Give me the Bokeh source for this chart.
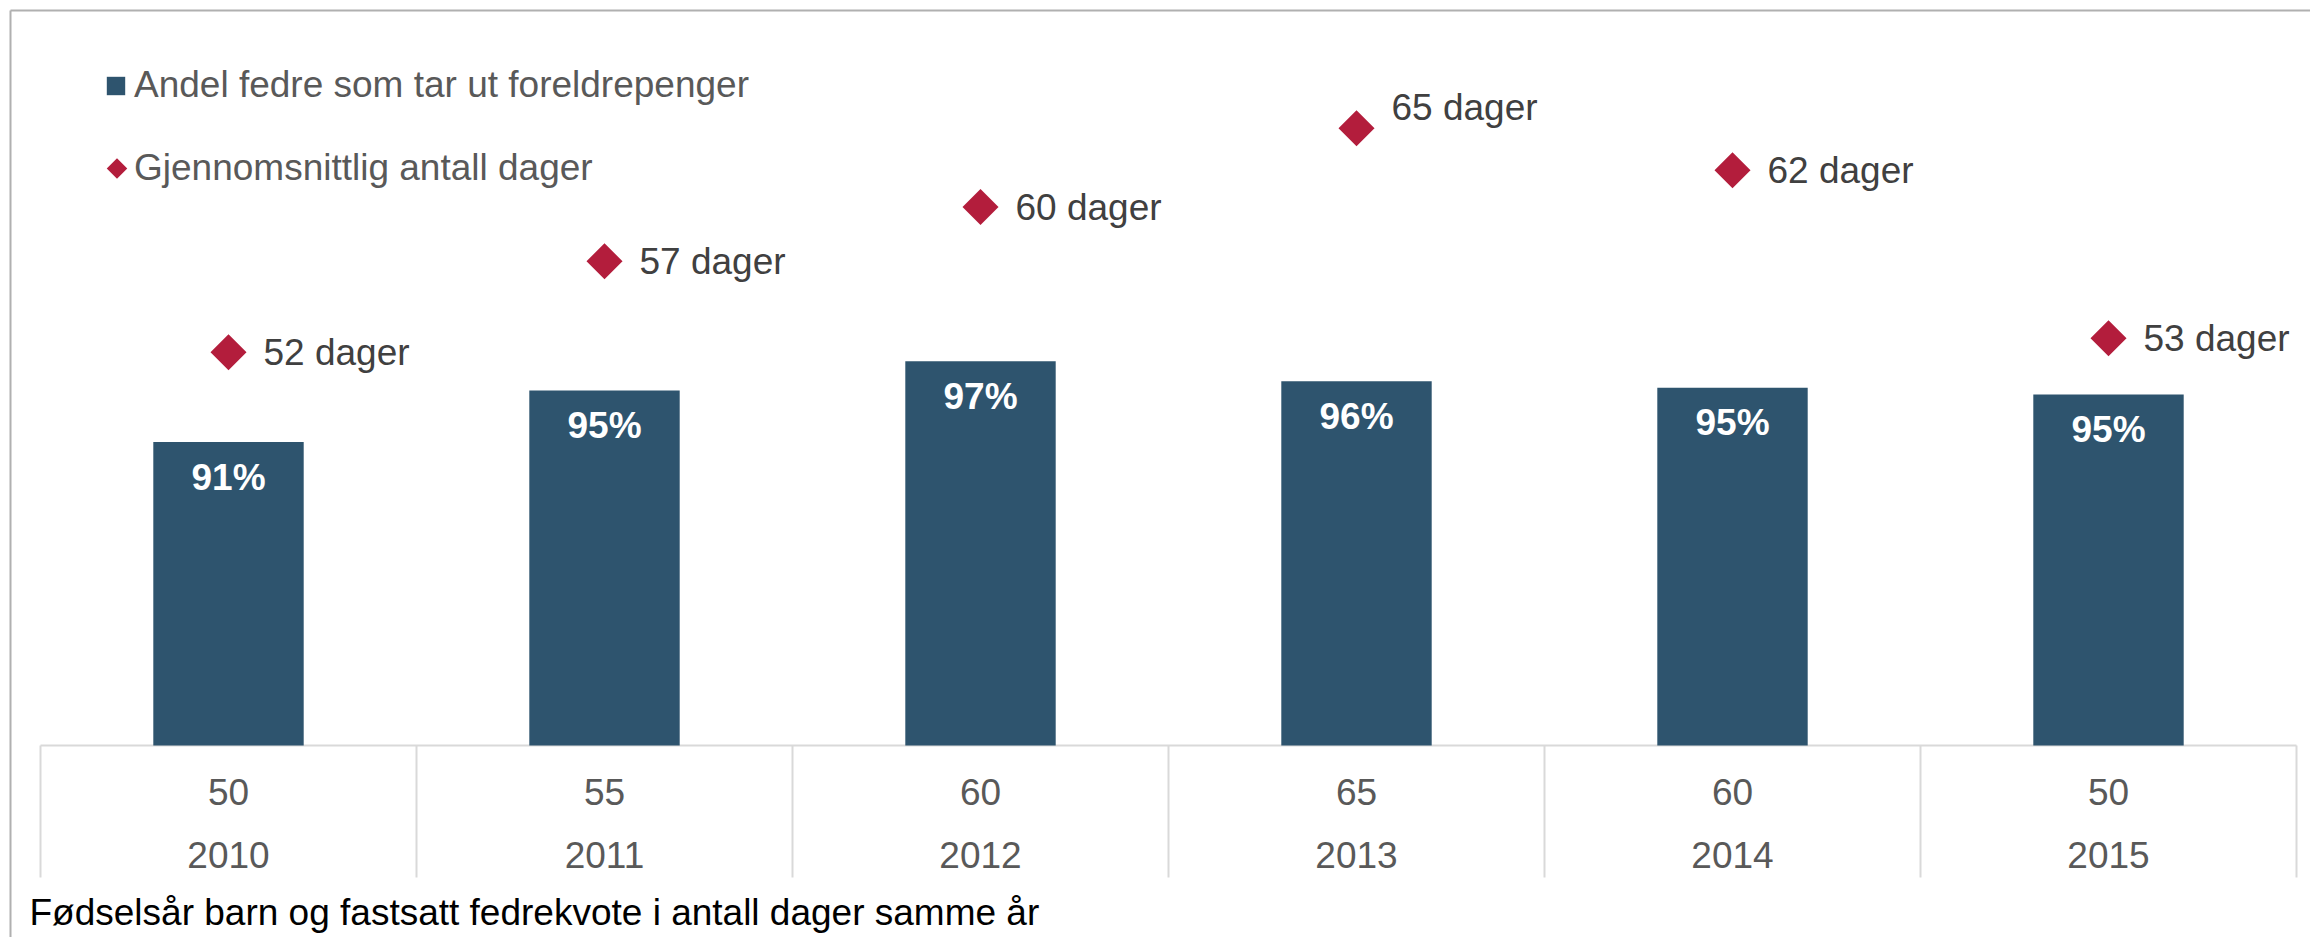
import math
from bokeh.plotting import figure
from bokeh.models import Range1d, ColumnDataSource, Legend, LegendItem
from bokeh.core.properties import value
from bokeh.embed import file_html
from bokeh.resources import INLINE

# ---- data ----
years = ["2010", "2011", "2012", "2013", "2014", "2015"]
quota_days = [50, 55, 60, 65, 60, 50]
share_pct = [90.9, 94.8, 97.0, 95.5, 95.0, 94.5]
avg_days = [51.9, 57.1, 60.2, 64.7, 62.3, 52.7]
series_names = ["Andel fedre som tar ut foreldrepenger", "Gjennomsnittlig antall dager"]
caption = "Fødselsår barn og fastsatt fedrekvote i antall dager samme år"

# ---- layout / style constants (pixels) ----
W, H = 2310, 937
CAT_LEFT = 40
CAT_W = 376
BASE_Y = 745
PCT_MIN = 68.0
PX_PER_PCT = 13.25
DAYS_ZERO_Y = 1260
PX_PER_DAY = 17.5
TABLE_DEPTH = 132
FONT = "Liberation Sans"
FS = "37px"
BAR = "#2e546e"
RED = "#b31d3c"
GRID = "#d9d9d9"
FRAME = "#b0b0b0"


def pct_at(cy):
    return PCT_MIN + (BASE_Y - cy) / PX_PER_PCT


def x_at(cx):
    return (cx - CAT_LEFT) / CAT_W


def rnd(v):
    return int(math.floor(v + 0.5))


n = len(years)
src = ColumnDataSource(dict(
    x=[i + 0.5 for i in range(n)],
    pct=share_pct,
    plabel=[f"{rnd(v)}%" for v in share_pct],
    days=avg_days,
    dlabel=[f"{rnd(d)} dager" for d in avg_days],
    dy=[-21 if d == max(avg_days) else 0 for d in avg_days],
    quota=[str(q) for q in quota_days],
    year=years,
))

p = figure(width=W, height=H, title=None,
           x_range=Range1d(x_at(0), x_at(W)),
           y_range=Range1d(pct_at(H), pct_at(0)),
           x_axis_type=None, y_axis_type=None,
           output_backend="svg", toolbar_location=None,
           min_border=0, outline_line_color=None,
           background_fill_color="white", border_fill_color="white")
p.extra_y_ranges = {"days": Range1d((DAYS_ZERO_Y - H) / PX_PER_DAY, DAYS_ZERO_Y / PX_PER_DAY)}
p.grid.visible = False

# outer chart-area frame (top and left edges)
p.segment(x0=[x_at(10), x_at(10)], y0=[pct_at(10), pct_at(10)],
          x1=[x_at(W), x_at(10)], y1=[pct_at(10), pct_at(H)],
          line_color=FRAME, line_width=2)

# category table lines
p.segment(x0=0, y0=PCT_MIN, x1=n, y1=PCT_MIN, line_color=GRID, line_width=2)
p.segment(x0=list(range(n + 1)), y0=PCT_MIN, x1=list(range(n + 1)),
          y1=pct_at(BASE_Y + TABLE_DEPTH), line_color=GRID, line_width=2)

# bars
bars = p.vbar(x="x", top="pct", bottom=PCT_MIN, width=0.4, source=src,
              fill_color=BAR, line_color=None)
p.text(x="x", y="pct", text="plabel", source=src, y_offset=35,
       text_align="center", text_baseline="middle", text_color="white",
       text_font=value(FONT), text_font_style="bold", text_font_size=FS)

# diamonds
dia = p.scatter(x="x", y="days", y_range_name="days", source=src, marker="square",
                angle=math.pi / 4, size=25.5, fill_color=RED, line_color=None)
p.text(x="x", y="days", y_range_name="days", text="dlabel", source=src,
       x_offset=35, y_offset="dy", text_align="left", text_baseline="middle",
       text_color="#404040", text_font=value(FONT), text_font_size=FS)

# category labels (quota + year)
p.text(x="x", y=pct_at(791), text="quota", source=src, text_align="center",
       text_baseline="middle", text_color="#595959", text_font=value(FONT), text_font_size=FS)
p.text(x="x", y=pct_at(854), text="year", source=src, text_align="center",
       text_baseline="middle", text_color="#595959", text_font=value(FONT), text_font_size=FS)

# caption (axis description)
p.text(x=[x_at(29)], y=[pct_at(912)], text=[caption], text_align="left",
       text_baseline="middle", text_color="black",
       text_font=value(FONT), text_font_size=FS)

# legends
common = dict(label_text_font=FONT, label_text_font_size=FS, label_text_color="#595959",
              border_line_color=None, background_fill_alpha=0, padding=0, margin=0, spacing=0)
leg1 = Legend(items=[LegendItem(label=series_names[0], renderers=[bars])],
              location=(104, H - 64 - 42), glyph_width=23, glyph_height=23,
              label_standoff=7, **common)
leg2 = Legend(items=[LegendItem(label=series_names[1], renderers=[dia])],
              location=(134, H - 147 - 42), glyph_width=0, glyph_height=23,
              label_standoff=0, **common)
p.add_layout(leg1)
p.add_layout(leg2)
# legend key for the diamond series (drawn rotated, as in the original)
p.scatter(x=[x_at(116.5)], y=[pct_at(168)], marker="square", angle=math.pi / 4,
          size=14.5, fill_color=RED, line_color=None)

open("out.html", "w").write(file_html(p, INLINE))
